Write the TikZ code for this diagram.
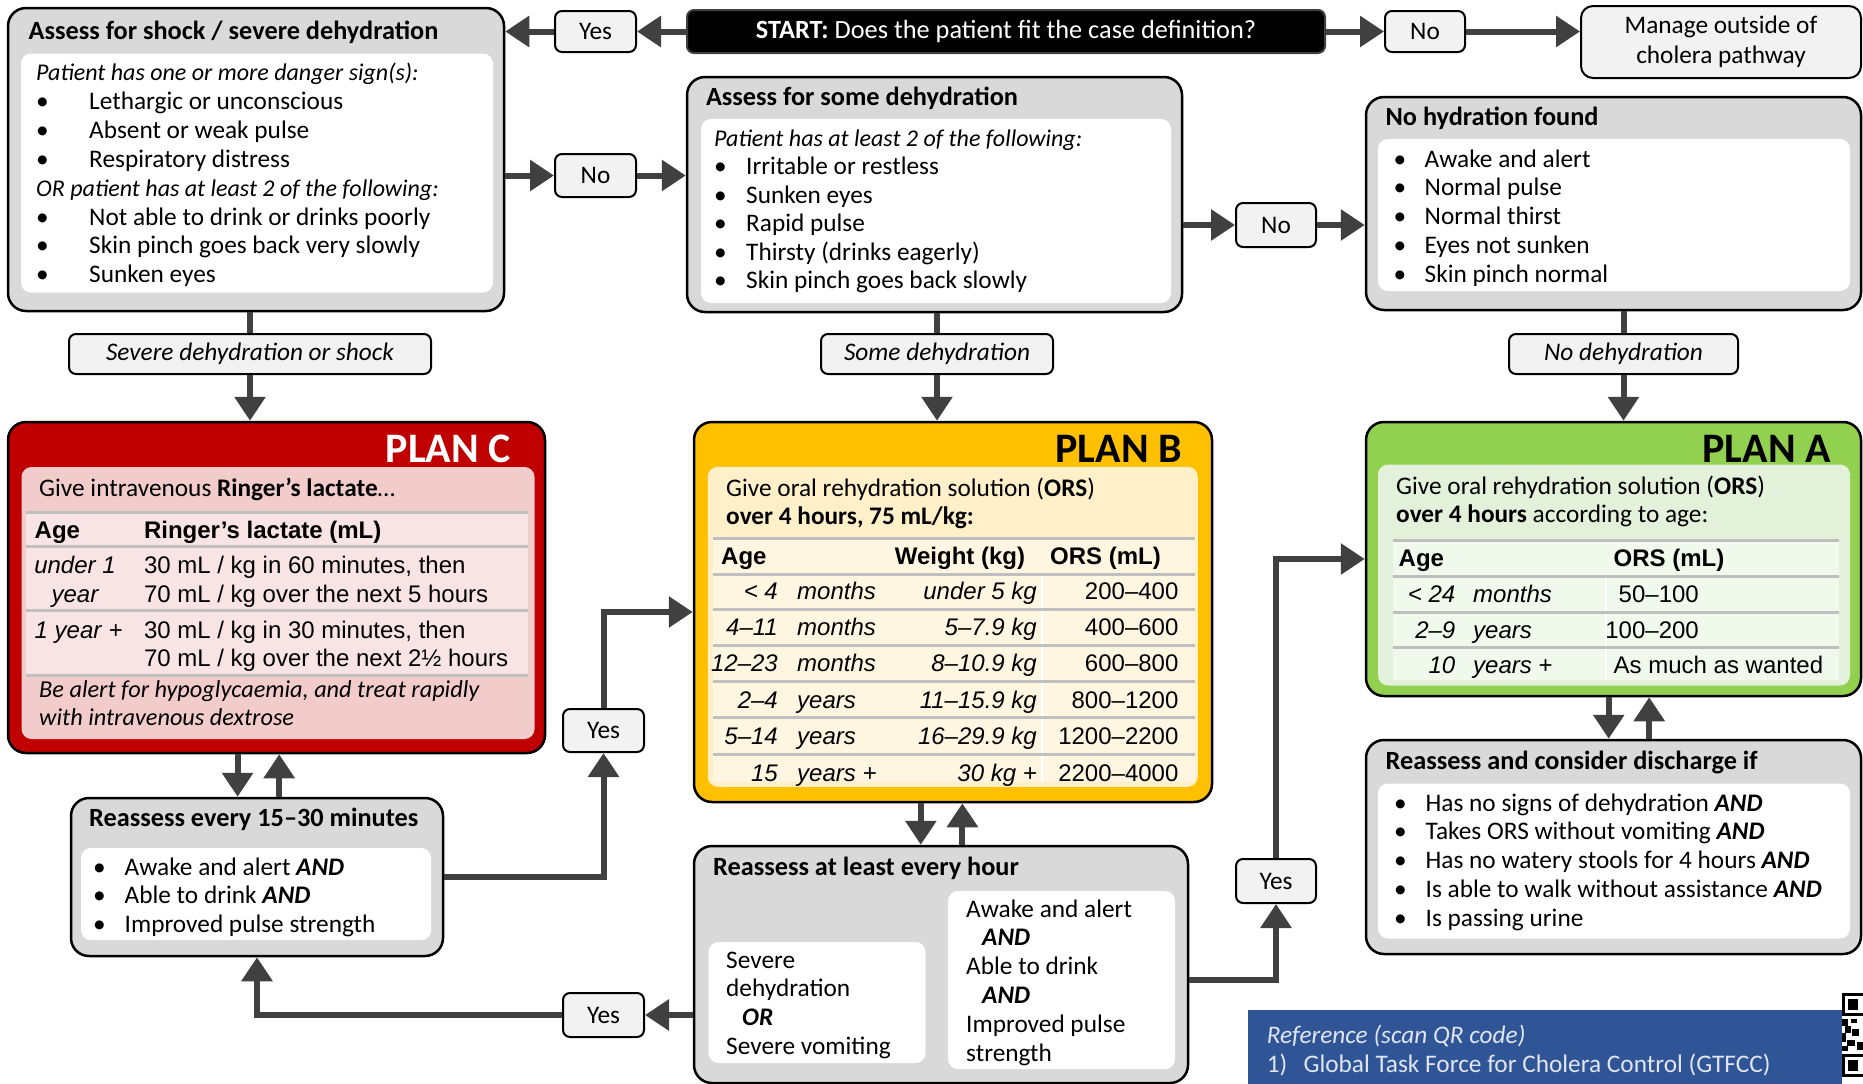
\documentclass[tikz,border=0pt]{standalone}
\usepackage{fontspec}
\setmainfont{Carlito}
\newfontfamily\tabfont{Liberation Sans}
\usetikzlibrary{positioning, arrows.meta, calc}
\definecolor{arrowgray}{HTML}{404040}
\definecolor{boxgray}{HTML}{D9D9D9}
\definecolor{lblgray}{HTML}{F2F2F2}
\definecolor{planc}{HTML}{C00000}
\definecolor{plancin}{HTML}{F2CBCB}
\definecolor{planctab}{HTML}{F8E4E4}
\definecolor{planb}{HTML}{FFC000}
\definecolor{planbin}{HTML}{FFF0C9}
\definecolor{planbtab}{HTML}{FFF6E2}
\definecolor{plana}{HTML}{92D050}
\definecolor{planain}{HTML}{E3F0DA}
\definecolor{planatab}{HTML}{F1F8EC}
\definecolor{refblue}{HTML}{2F5597}
\definecolor{rulegray}{HTML}{BFBFBF}
\newcommand{\txtfont}{\fontsize{25.3}{28.9}\selectfont}
\newcommand{\ttlfont}{\fontsize{26.3}{29}\selectfont\bfseries}
\newcommand{\tabfnt}{\tabfont\fontsize{24}{28.5}\selectfont}
\newcommand{\planfont}{\fontsize{42}{42}\selectfont\bfseries}
\newcommand{\itm}[2][31pt]{\makebox[#1][l]{\textbullet}#2}
\newcommand{\bi}[1]{\textbf{\textit{#1}}}
\newcommand{\intro}[1]{{\fontsize{24}{28.9}\selectfont\itshape #1}}
\newcommand{\lns}[1]{\parbox[t]{640pt}{\raggedright #1}}

\begin{document}
\begin{tikzpicture}[
    x=1pt, y=-1pt,
    box/.style={draw, line width=2.5pt, rounded corners=18pt, fill=boxgray, inner sep=0pt},
    inbox/.style={fill=white, rounded corners=10pt, inner sep=0pt},
    lbl/.style={draw, line width=2pt, rounded corners=7pt, fill=lblgray, inner sep=0pt, font=\txtfont},
    arr/.style={-{Triangle[length=24pt, width=30pt]}, line width=6pt, arrowgray},
    lnk/.style={line width=6pt, arrowgray},
    txt/.style={anchor=base west, inner sep=0pt, font=\txtfont},
    ttl/.style={anchor=base west, inner sep=0pt, font=\ttlfont},
    tabl/.style={anchor=base west, inner sep=0pt, font=\tabfnt},
    tabr/.style={anchor=base east, inner sep=0pt, font=\tabfnt},
    tabh/.style={anchor=base west, inner sep=0pt, font=\tabfnt\bfseries},
    plan/.style={anchor=base east, inner sep=0pt, font=\planfont},
    rule/.style={line width=3pt, rulegray}
]
    \useasboundingbox (0,0) rectangle (1863,1084);

    % Start
    \node[draw=arrowgray, line width=2pt, fill=black, rounded corners=7pt, text=white, minimum width=638pt, minimum height=43pt, inner sep=0pt, font=\fontsize{26.3}{29}\selectfont] (start) at (1006,31.5) {\textbf{START:} Does the patient fit the case definition?};
    \node[lbl, minimum width=81pt, minimum height=41pt] (yesT) at (595.5,31.5) {Yes};
    \node[lbl, minimum width=80pt, minimum height=41pt] (noT) at (1425,31.5) {No};
    \node[lbl, minimum width=280pt, minimum height=72pt, rounded corners=12pt, align=center, font=\fontsize{25.3}{30}\selectfont] (manage) at (1721,42) {Manage outside of\\cholera pathway};

    % Shock / severe dehydration
    \node[box, minimum width=496pt, minimum height=303pt] (shock) at (256,159.5) {};
    \node[inbox, minimum width=472pt, minimum height=239pt] (shockin) at (257,173) {};
    \node[ttl] (shockttl) at (28.5,39) {Assess for shock / severe dehydration};
    \node[txt] (shocktxt) at (36,80.5) {\lns{\intro{Patient has one or more danger sign(s):}\\
        \itm[53pt]{Lethargic or unconscious}\\
        \itm[53pt]{Absent or weak pulse}\\
        \itm[53pt]{Respiratory distress}\\
        \intro{OR patient has at least 2 of the following:}\\
        \itm[53pt]{Not able to drink or drinks poorly}\\
        \itm[53pt]{Skin pinch goes back very slowly}\\
        \itm[53pt]{Sunken eyes}}};

    % Some dehydration
    \node[lbl, minimum width=81pt, minimum height=43pt] (noA) at (595.5,175.5) {No};
    \node[box, minimum width=495pt, minimum height=235pt] (some) at (934.5,194.5) {};
    \node[inbox, minimum width=470pt, minimum height=184pt] (somein) at (936,211) {};
    \node[ttl] (somettl) at (705.8,105.4) {Assess for some dehydration};
    \node[txt, font=\fontsize{25.3}{28.5}\selectfont] (sometxt) at (714,146) {\lns{\intro{Patient has at least 2 of the following:}\\
        \itm[32pt]{Irritable or restless}\\
        \itm[32pt]{Sunken eyes}\\
        \itm[32pt]{Rapid pulse}\\
        \itm[32pt]{Thirsty (drinks eagerly)}\\
        \itm[32pt]{Skin pinch goes back slowly}}};

    % No dehydration
    \node[lbl, minimum width=80pt, minimum height=44pt] (noB) at (1276,225) {No};
    \node[box, minimum width=495pt, minimum height=213pt] (nohyd) at (1613.5,203.5) {};
    \node[inbox, minimum width=472pt, minimum height=152pt] (nohydin) at (1614,215) {};
    \node[ttl] (nohydttl) at (1385.4,125.6) {No hydration found};
    \node[txt] (nohydtxt) at (1393.5,167) {\lns{\itm{Awake and alert}\\
        \itm{Normal pulse}\\
        \itm{Normal thirst}\\
        \itm{Eyes not sunken}\\
        \itm{Skin pinch normal}}};

    % Outcome labels
    \node[lbl, minimum width=362pt, minimum height=40pt, font=\txtfont\itshape] (lblC) at (250,354) {Severe dehydration or shock};
    \node[lbl, minimum width=232pt, minimum height=40pt, font=\txtfont\itshape] (lblB) at (937,354) {Some dehydration};
    \node[lbl, minimum width=229pt, minimum height=40pt, font=\txtfont\itshape] (lblA) at (1623.5,354) {No dehydration};

    % Plan C
    \node[box, fill=planc, minimum width=537pt, minimum height=331pt] (planc) at (276.5,587.5) {};
    \node[inbox, fill=plancin, minimum width=513pt, minimum height=272pt] (plancin) at (278,603) {};
    \node[plan, text=white] (planclbl) at (511,462) {PLAN C};
    \node[txt] (plancgive) at (39,496) {Give intravenous \textbf{Ringer’s lactate}\dots};
    \fill[planctab] (26,512) rectangle (527.5,675);
    \foreach \yy in {512,546.5,610.7,675}
        \draw[rule] (26,\yy) -- (527.5,\yy);
    \node[tabh] (planchage) at (34.5,538) {Age};
    \node[tabh] (planchrl) at (143.8,538) {Ringer’s lactate (mL)};
    \node[tabl, anchor=base] (planca1) at (75,573.5) {\parbox[t]{120pt}{\centering\itshape under 1\\year}};
    \node[tabl] (planc1) at (143.8,573.5) {\lns{30 mL / kg in 60 minutes, then\\70 mL / kg over the next 5 hours}};
    \node[tabl] (planca2) at (34.5,638) {\textit{1 year} +};
    \node[tabl] (planc2) at (143.8,638) {\lns{30 mL / kg in 30 minutes, then\\70 mL / kg over the next 2½ hours}};
    \node[txt, font=\fontsize{24.3}{28.6}\selectfont\itshape] (plancnote) at (39,697) {\lns{Be alert for hypoglycaemia, and treat rapidly\\with intravenous dextrose}};

    % Plan B
    \node[box, fill=planb, minimum width=518pt, minimum height=380pt] (planb) at (953,612) {};
    \node[inbox, fill=planbin, minimum width=490pt, minimum height=320pt] (planbin) at (952.8,626.8) {};
    \node[plan] (planblbl) at (1182,462) {PLAN B};
    \node[txt] (planbgive) at (726,496) {\lns{Give oral rehydration solution (\textbf{ORS})\\\textbf{over 4 hours, 75 mL/kg:}}};
    \fill[planbtab] (713,538) rectangle (1195,782);
    \draw[white, line width=1.5pt] (1042,574) -- (1042,782);
    \foreach \yy in {538,574,609.5,645,681,717.6,754.5}
        \draw[rule] (713,\yy) -- (1195,\yy);
    \node[tabh] (planbhage) at (721,564) {Age};
    \node[tabh] (planbhwt) at (894.7,564) {Weight (kg)};
    \node[tabh] (planbhors) at (1050,564) {ORS (mL)};
    \foreach \yy/\ag/\un/\wt/\ors in {599.7/{< 4}/{months}/{under 5 kg}/{200–400},
            635/{4–11}/{months}/{5–7.9 kg}/{400–600},
            671/{12–23}/{months}/{8–10.9 kg}/{600–800},
            708/{2–4}/{years}/{11–15.9 kg}/{800–1200},
            744.6/{5–14}/{years}/{16–29.9 kg}/{1200–2200},
            781.5/{15}/{\textit{years} +}/{\textit{30 kg} +}/{2200–4000}} {
        \node[tabr] at (778,\yy) {\itshape\ag};
        \node[tabl] at (797,\yy) {\itshape\un};
        \node[tabr] at (1037,\yy) {\itshape\wt};
        \node[tabr] at (1178.6,\yy) {\ors};
    }

    % Plan A
    \node[box, fill=plana, minimum width=495pt, minimum height=274pt] (plana) at (1613.5,559) {};
    \node[inbox, fill=planain, minimum width=472pt, minimum height=221pt] (planain) at (1614,575) {};
    \node[plan] (planalbl) at (1831,462) {PLAN A};
    \node[txt] (planagive) at (1396,494) {\lns{Give oral rehydration solution (\textbf{ORS})\\\textbf{over 4 hours} according to age:}};
    \fill[planatab] (1392.5,540.6) rectangle (1839,680);
    \draw[white, line width=1.5pt] (1606,576) -- (1606,680);
    \foreach \yy in {540.6,576,612,647.5}
        \draw[rule] (1392.5,\yy) -- (1839,\yy);
    \node[tabh] (planahage) at (1398.5,566) {Age};
    \node[tabh] (planahors) at (1613.5,566) {ORS (mL)};
    \node[tabr] (planaa1) at (1455.5,602) {\itshape < 24};
    \node[tabl] (planau1) at (1473,602) {\itshape months};
    \node[tabr] (planao1) at (1699,602) {50–100};
    \node[tabr] (planaa2) at (1455.5,638) {\itshape 2–9};
    \node[tabl] (planau2) at (1473,638) {\itshape years};
    \node[tabr] (planao2) at (1699,638) {100–200};
    \node[tabr] (planaa3) at (1455.5,673.4) {\itshape 10};
    \node[tabl] (planau3) at (1473,673.4) {\textit{years} +};
    \node[tabl] (planao3) at (1613.5,673.4) {As much as wanted};

    % Reassess every 15-30 minutes
    \node[box, minimum width=372pt, minimum height=158pt] (reC) at (257,877) {};
    \node[inbox, minimum width=350pt, minimum height=92pt] (reCin) at (256,894) {};
    \node[ttl] (reCttl) at (89,826.6) {Reassess every 15–30 minutes};
    \node[txt] (reCtxt) at (93,875) {\lns{\itm[31.5pt]{Awake and alert \bi{AND}}\\
        \itm[31.5pt]{Able to drink \bi{AND}}\\
        \itm[31.5pt]{Improved pulse strength}}};
    \node[lbl, minimum width=81pt, minimum height=43pt] (yesL) at (603.5,730.5) {Yes};

    % Reassess at least every hour
    \node[box, minimum width=494pt, minimum height=237pt] (reB) at (941,964.5) {};
    \node[inbox, minimum width=217pt, minimum height=121pt] (reBl) at (817,1002.5) {};
    \node[inbox, minimum width=227pt, minimum height=178pt] (reBr) at (1061.5,980) {};
    \node[ttl] (reBttl) at (713,875) {Reassess at least every hour};
    \node[txt] (reBltxt) at (726,968) {\lns{Severe\\dehydration\\\hspace*{16pt}\bi{OR}\\Severe vomiting}};
    \node[txt] (reBrtxt) at (966,917) {\lns{Awake and alert\\\hspace*{16pt}\bi{AND}\\Able to drink\\\hspace*{16pt}\bi{AND}\\Improved pulse\\strength}};
    \node[lbl, minimum width=81pt, minimum height=44pt] (yesB) at (603.5,1015) {Yes};
    \node[lbl, minimum width=80pt, minimum height=44pt] (yesR) at (1276,881) {Yes};

    % Reassess and consider discharge
    \node[box, minimum width=495pt, minimum height=214pt] (reA) at (1613.5,847) {};
    \node[inbox, minimum width=472pt, minimum height=155pt] (reAin) at (1614,861) {};
    \node[ttl] (reAttl) at (1385.4,769.6) {Reassess and consider discharge if};
    \node[txt] (reAtxt) at (1394,811) {\lns{\itm[31.5pt]{Has no signs of dehydration \bi{AND}}\\
        \itm[31.5pt]{Takes ORS without vomiting \bi{AND}}\\
        \itm[31.5pt]{Has no watery stools for 4 hours \bi{AND}}\\
        \itm[31.5pt]{Is able to walk without assistance \bi{AND}}\\
        \itm[31.5pt]{Is passing urine}}};

    % Reference
    \node[fill=refblue, minimum width=594pt, minimum height=76pt, inner sep=0pt] (ref) at (1544.5,1048) {};
    \node[txt, text=white!85!refblue, font=\fontsize{25.3}{29.6}\selectfont] (reftxt) at (1266.6,1043) {\lns{\textit{Reference (scan QR code)}\\\makebox[36.8pt][l]{1)}Global Task Force for Cholera Control (GTFCC)}};
    % QR (cut off)
    \fill (1842,993) rectangle (1863,1016);
    \fill[white] (1845,996) rectangle (1863,1013);
    \fill (1848,999) rectangle (1858,1010);
    \fill (1842,1054) rectangle (1863,1077);
    \fill[white] (1845,1057) rectangle (1863,1074);
    \fill (1848,1060) rectangle (1858,1071);
    \fill (1842,1019) rectangle (1848,1026);
    \fill (1851,1019) rectangle (1857,1023);
    \fill (1845,1026) rectangle (1851,1033);
    \fill (1842,1033) rectangle (1846,1042);
    \fill (1852,1029) rectangle (1859,1036);
    \fill (1847,1040) rectangle (1855,1046);
    \fill (1842,1046) rectangle (1848,1051);
    \fill (1857,1042) rectangle (1863,1050);

    % Connectors
    \draw[arr] (start.west) -- (yesT.east);
    \draw[arr] (yesT.west) -- (yesT.west -| shock.east);
    \draw[arr] (start.east) -- (noT.west);
    \draw[arr] (noT.east) -- (noT.east -| manage.west);
    \draw[arr] (noA.west -| shock.east) -- (noA.west);
    \draw[arr] (noA.east) -- (noA.east -| some.west);
    \draw[arr] (noB.west -| some.east) -- (noB.west);
    \draw[arr] (noB.east) -- (noB.east -| nohyd.west);
    \draw[lnk] (lblC.north |- shock.south) -- (lblC.north);
    \draw[arr] (lblC.south) -- (lblC.south |- planc.north);
    \draw[lnk] (lblB.north |- some.south) -- (lblB.north);
    \draw[arr] (lblB.south) -- (lblB.south |- planb.north);
    \draw[lnk] (lblA.north |- nohyd.south) -- (lblA.north);
    \draw[arr] (lblA.south) -- (lblA.south |- plana.north);
    \draw[arr] (237.6,0 |- planc.south) -- (237.6,0 |- reC.north);
    \draw[arr] (279.2,0 |- reC.north) -- (279.2,0 |- planc.south);
    \draw[arr] (920.8,0 |- planb.south) -- (920.8,0 |- reB.north);
    \draw[arr] (962.4,0 |- reB.north) -- (962.4,0 |- planb.south);
    \draw[arr] (1608.7,0 |- plana.south) -- (1608.7,0 |- reA.north);
    \draw[arr] (1649.2,0 |- reA.north) -- (1649.2,0 |- plana.south);
    \draw[arr] (reC.east) -| (yesL.south);
    \draw[arr] (yesL.north) |- (planb.west);
    \draw[arr] (reB.west |- yesB.east) -- (yesB.east);
    \draw[arr] (yesB.west) -| (reC.south);
    \draw[arr] (reBr.east -| reB.east) -| (yesR.south);
    \draw[arr] (yesR.north) |- (plana.west);
\end{tikzpicture}
\end{document}
